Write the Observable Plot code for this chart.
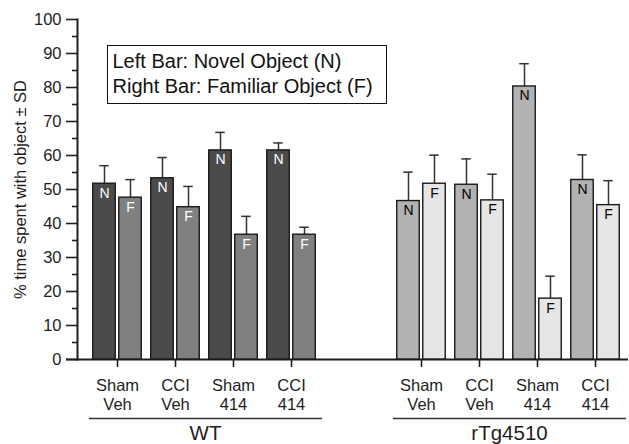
<!DOCTYPE html>
<html>
<head>
<meta charset="utf-8">
<script src="https://cdn.jsdelivr.net/npm/d3@7"></script>
<script src="https://cdn.jsdelivr.net/npm/@observablehq/plot@0.6"></script>
<style>
  body { margin: 0; background: #fff; font-family: "Liberation Sans", Arial, sans-serif; }
  #wrap { position: relative; width: 629px; height: 444px; }
  #legend {
    position: absolute; left: 107px; top: 45px; width: 280px; height: 59px;
    box-sizing: border-box; border: 1.5px solid #111; background: #fff;
    font-size: 20px; line-height: 25px; color: #111; padding: 3px 0 0 4.5px; white-space: nowrap;
  }
</style>
</head>
<body>
<div id="wrap">
  <div id="chart"></div>
  <div id="legend"><div>Left Bar: Novel Object (N)</div><div>Right Bar: Familiar Object (F)</div></div>
</div>
<script>
// ---- data ----
const genotypes = ["WT", "rTg4510"];
const conditions = ["Sham\nVeh", "CCI\nVeh", "Sham\n414", "CCI\n414"];
const objects = ["N", "F"];
const wtNovel = [51.7, 53.3, 61.5, 61.5];
const wtNovelSD = [5.3, 6.1, 5.3, 2.2];
const wtFamiliar = [47.6, 44.8, 36.7, 36.7];
const wtFamiliarSD = [5.3, 6.1, 5.4, 2.2];
const tgNovel = [46.6, 51.4, 80.3, 52.8];
const tgNovelSD = [8.5, 7.6, 6.7, 7.4];
const tgFamiliar = [51.7, 46.8, 17.9, 45.4];
const tgFamiliarSD = [8.4, 7.7, 6.6, 7.2];
const yTicks = [0, 10, 20, 30, 40, 50, 60, 70, 80, 90, 100];
const yMinorTicks = [5, 15, 25, 35, 45, 55, 65, 75, 85, 95];
const yLabel = "% time spent with object ± SD";

// ---- table ----
const series = [
  ["WT", "N", wtNovel, wtNovelSD],
  ["WT", "F", wtFamiliar, wtFamiliarSD],
  ["rTg4510", "N", tgNovel, tgNovelSD],
  ["rTg4510", "F", tgFamiliar, tgFamiliarSD]
];
const rows = [];
for (const [genotype, object, vals, sds] of series) {
  conditions.forEach((condition, i) => rows.push({genotype, condition, object, value: vals[i], sd: sds[i]}));
}
const rowsN = rows.filter(d => d.object === "N");
const rowsF = rows.filter(d => d.object === "F");

// ---- styles ----
const fills = {"WT|N": "#4b4b4b", "WT|F": "#808080", "rTg4510|N": "#b2b2b2", "rTg4510|F": "#e6e6e6"};
const labelFills = {"WT": "#ffffff", "rTg4510": "#000000"};
const fillOf = d => fills[d.genotype + "|" + d.object];
const ink = "#1e1e1e";

const chart = Plot.plot({
  width: 629, height: 444,
  marginTop: 19, marginBottom: 85, marginLeft: 77, marginRight: 4,
  style: {fontFamily: "Liberation Sans, Arial, sans-serif", fontSize: "16px", color: ink, background: "#fff"},
  fx: {domain: genotypes, range: [77, 625], paddingInner: 60 / 304, paddingOuter: 0, axis: null, label: null},
  x: {domain: conditions, insetLeft: 10, padding: 0, axis: null, label: null},
  y: {domain: [0, 100], axis: null, label: null},
  color: {type: "identity"},
  marks: [
    // y axis
    Plot.axisY({ticks: yMinorTicks, tickSize: 5, text: null, label: null, strokeWidth: 1.6, stroke: ink}),
    Plot.axisY({ticks: yTicks, tickSize: 11, tickPadding: 5, fontSize: 16.5, strokeWidth: 1.6, stroke: ink,
      label: yLabel, labelAnchor: "center", labelArrow: "none", labelOffset: 63}),
    Plot.frame({anchor: "left", facetAnchor: "left", strokeWidth: 2, stroke: ink}),
    // baseline
    Plot.ruleY(["WT"], {fx: d => d, y: 0, insetLeft: -11, insetRight: -307, strokeWidth: 2, stroke: ink}),
    // error bars
    Plot.ruleX(rowsN, {fx: "genotype", x: "condition", y1: "value", y2: d => d.value + d.sd, dx: -13, stroke: "#333", strokeWidth: 1.5}),
    Plot.ruleX(rowsF, {fx: "genotype", x: "condition", y1: "value", y2: d => d.value + d.sd, dx: 13, stroke: "#333", strokeWidth: 1.5}),
    Plot.tickY(rowsN, {fx: "genotype", x: "condition", y: d => d.value + d.sd, insetLeft: 11.25, insetRight: 37.25, stroke: "#333", strokeWidth: 1.5}),
    Plot.tickY(rowsF, {fx: "genotype", x: "condition", y: d => d.value + d.sd, insetLeft: 37.25, insetRight: 11.25, stroke: "#333", strokeWidth: 1.5}),
    // bars
    Plot.barY(rowsN, {fx: "genotype", x: "condition", y: "value", fill: fillOf, stroke: "#1a1a1a", strokeWidth: 1.4, insetLeft: 4.75, insetRight: 30.75}),
    Plot.barY(rowsF, {fx: "genotype", x: "condition", y: "value", fill: fillOf, stroke: "#1a1a1a", strokeWidth: 1.4, insetLeft: 30.75, insetRight: 4.75}),
    // bar labels
    Plot.text(rowsN, {fx: "genotype", x: "condition", y: "value", text: "object", dx: -13, dy: 9.5, fontSize: 14, fill: d => labelFills[d.genotype]}),
    Plot.text(rowsF, {fx: "genotype", x: "condition", y: "value", text: "object", dx: 13, dy: 9.5, fontSize: 14, fill: d => labelFills[d.genotype]}),
    // x axis
    Plot.axisX({anchor: "bottom", tickSize: 8, tickPadding: 10, fontSize: 16.5, lineHeight: 1.16, label: null, strokeWidth: 1.6, stroke: ink}),
    // genotype underline + labels
    Plot.ruleY(genotypes, {fx: d => d, y: 0, dy: 59, insetLeft: 12, insetRight: -1, strokeWidth: 1.3, stroke: "#333"}),
    Plot.text(genotypes, {fx: d => d, text: d => d, frameAnchor: "bottom", lineAnchor: "middle", dy: 74, dx: 6, fontSize: 20.5, fill: ink})
  ]
});
document.getElementById("chart").appendChild(chart);
</script>
</body>
</html>
